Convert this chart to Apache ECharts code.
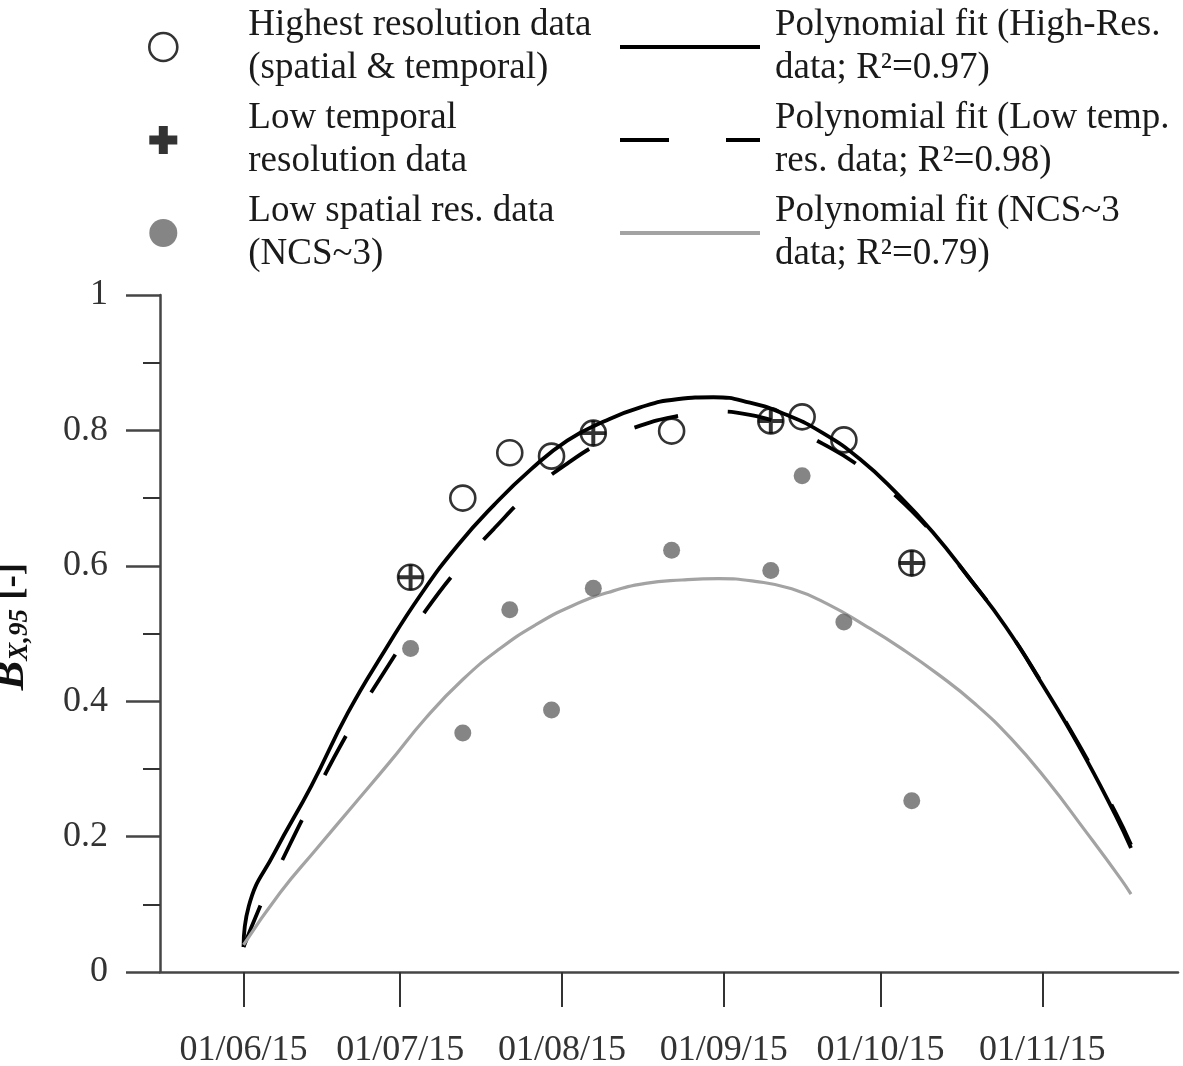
<!DOCTYPE html>
<html><head><meta charset="utf-8">
<script src="https://cdn.jsdelivr.net/npm/echarts@6/dist/echarts.min.js"></script>
<style>html,body{margin:0;padding:0;background:#fff}#c{width:1183px;height:1066px}</style>
</head><body><div id="c"></div>
<script>
// ---- data ----
const tickDates = ['2015-06-01','2015-07-01','2015-08-01','2015-09-01','2015-10-01','2015-11-01'];
const tickLabels = ['01/06/15','01/07/15','01/08/15','01/09/15','01/10/15','01/11/15'];
const xRange = ['2015-05-16','2015-11-27'];

const obsDates = ['2015-07-03','2015-07-13','2015-07-22','2015-07-30','2015-08-07','2015-08-22','2015-09-10','2015-09-16','2015-09-24','2015-10-07'];
const highRes = [0.583,0.700,0.767,0.762,0.796,0.799,0.814,0.820,0.786,0.604];
const lowSpatial = [0.478,0.353,0.535,0.387,0.567,0.623,0.593,0.733,0.517,0.253];
const lowTempDates = ['2015-07-03','2015-08-07','2015-09-10','2015-10-07'];
const lowTemp = [0.583,0.796,0.814,0.604];

const fitDates = ['2015-06-01','2015-06-02','2015-06-07','2015-06-14','2015-06-21','2015-06-28','2015-07-05','2015-07-12','2015-07-19','2015-07-26','2015-08-02','2015-08-09','2015-08-16','2015-08-23','2015-08-30','2015-09-06','2015-09-13','2015-09-20','2015-09-27','2015-10-04','2015-10-11','2015-10-18','2015-10-25','2015-11-01','2015-11-08','2015-11-15','2015-11-18'];
const solidVals = [0.037,0.097,0.177,0.275,0.383,0.474,0.558,0.630,0.690,0.742,0.785,0.813,0.834,0.846,0.849,0.841,0.823,0.796,0.758,0.708,0.650,0.582,0.510,0.425,0.334,0.232,0.183];

const dashDates = ['2015-06-01','2015-06-05','2015-06-07','2015-06-14','2015-06-21','2015-06-28','2015-07-05','2015-07-12','2015-07-19','2015-07-26','2015-08-02','2015-08-09','2015-08-16','2015-08-23','2015-08-30','2015-09-06','2015-09-13','2015-09-20','2015-09-27','2015-10-04','2015-10-11','2015-10-18','2015-10-25','2015-11-01','2015-11-08','2015-11-15','2015-11-18'];
const dashVals = [0.037,0.112,0.143,0.252,0.354,0.444,0.524,0.595,0.655,0.709,0.751,0.784,0.807,0.821,0.828,0.823,0.806,0.780,0.747,0.703,0.648,0.582,0.510,0.426,0.336,0.236,0.188];

const greyDates = ['2015-06-01','2015-06-08','2015-06-15','2015-06-22','2015-06-29','2015-07-06','2015-07-13','2015-07-20','2015-07-27','2015-08-03','2015-08-10','2015-08-17','2015-08-24','2015-08-31','2015-09-07','2015-09-14','2015-09-21','2015-09-28','2015-10-05','2015-10-12','2015-10-19','2015-10-26','2015-11-02','2015-11-09','2015-11-16','2015-11-18'];
const greyVals = [0.040,0.117,0.182,0.246,0.310,0.376,0.432,0.477,0.513,0.541,0.561,0.574,0.579,0.581,0.577,0.566,0.543,0.512,0.478,0.440,0.397,0.345,0.282,0.211,0.138,0.115];

const names = [
  'Highest resolution data\n(spatial & temporal)',
  'Low temporal\nresolution data',
  'Low spatial res. data\n(NCS~3)',
  'Polynomial fit (High-Res.\ndata; R\u00b2=0.97)',
  'Polynomial fit (Low temp.\nres. data; R\u00b2=0.98)',
  'Polynomial fit (NCS~3\ndata; R\u00b2=0.79)'
];

// ---- helpers ----
function t(s){ const p = s.split('-'); return new Date(+p[0], +p[1]-1, +p[2]).getTime(); }
function pairs(ds, vs){ return ds.map((d,i)=>[t(d), vs[i]]); }
const tickTimes = tickDates.map(t);
const FONT = '"Liberation Serif","Times New Roman",serif';
const plusThin = 'path://M10.1,0H13.9V10.1H24V13.9H13.9V24H10.1V13.9H0V10.1H10.1Z';
const plusThick = 'path://M9.5,0H18.5V9.5H28V18.5H18.5V28H9.5V18.5H0V9.5H9.5Z';
const lineIcon = 'path://M0,0H140V4H0Z';
const dashIcon = 'path://M0,0H49V4H0ZM106,0H140V4H106Z';

const chart = echarts.init(document.getElementById('c'), null, {renderer:'canvas'});
chart.setOption({
  animation: false,
  backgroundColor: '#fff',
  grid: {left:160, right:5, top:295, bottom:94, containLabel:false, outerBoundsMode:'none'},
  legend: [
    {orient:'vertical', left:148, top:4, padding:0, itemGap:7, itemWidth:160, itemHeight:28, selectedMode:false,
     textStyle:{fontSize:37, lineHeight:43, fontFamily:FONT, color:'#1a1a1a'},
     data:[
       {name:names[0], icon:'circle', itemStyle:{borderWidth:2.6, borderColor:'#000'}},
       {name:names[1], icon:plusThick},
       {name:names[2], icon:'circle'}
     ]},
    {orient:'vertical', left:620, top:4, padding:0, itemGap:7, itemWidth:140, itemHeight:28, selectedMode:false,
     itemStyle:{borderWidth:0},
     textStyle:{fontSize:37, lineHeight:43, fontFamily:FONT, color:'#1a1a1a', padding:[0,0,0,10]},
     data:[
       {name:names[3], icon:lineIcon},
       {name:names[4], icon:dashIcon},
       {name:names[5], icon:lineIcon}
     ]}
  ],
  xAxis: {
    type:'value', min:t(xRange[0]), max:t(xRange[1]), scale:true,
    axisLine:{show:true, onZero:false, lineStyle:{color:'#454545', width:2.5}},
    axisTick:{show:true, customValues:tickTimes, length:35, lineStyle:{color:'#333', width:2}},
    axisLabel:{customValues:tickTimes, margin:61, fontSize:36, fontFamily:FONT, color:'#333', hideOverlap:false,
      formatter:function(v){ let best=0; for(let i=0;i<tickTimes.length;i++){ if(Math.abs(tickTimes[i]-v)<Math.abs(tickTimes[best]-v)) best=i; } return tickLabels[best]; }},
    splitLine:{show:false}, minorTick:{show:false}
  },
  yAxis: {
    type:'value', min:0, max:1, interval:0.2,
    axisLine:{show:true, lineStyle:{color:'#454545', width:2.5}},
    axisTick:{show:true, length:34, lineStyle:{color:'#454545', width:2.5}},
    minorTick:{show:true, splitNumber:2, length:17, lineStyle:{color:'#333', width:2}},
    splitLine:{show:false}, minorSplitLine:{show:false},
    axisLabel:{margin:52, fontSize:36, fontFamily:FONT, color:'#333'},
    name:'{b|B}{s|X,95}{n| [-]}', nameLocation:'middle', nameRotate:90, nameGap:126,
    nameTextStyle:{fontFamily:FONT, color:'#111', padding:[0,0,0,14], rich:{
      b:{fontSize:44, fontWeight:'bold', fontStyle:'italic', fontFamily:FONT, color:'#111', lineHeight:44},
      s:{fontSize:27, fontWeight:'bold', fontStyle:'italic', fontFamily:FONT, color:'#111', verticalAlign:'bottom', lineHeight:27},
      n:{fontSize:37, fontWeight:'bold', fontFamily:FONT, color:'#111', lineHeight:44}
    }}
  },
  series: [
    {name:names[3], type:'line', data:pairs(fitDates, solidVals), symbol:'none', smooth:0.5,
     color:'#000', lineStyle:{color:'#000', width:3.8}, z:2},
    {name:names[4], type:'line', data:pairs(dashDates, dashVals), symbol:'none', smooth:0.5,
     color:'#000', lineStyle:{color:'#000', width:3.8, type:[45,50]}, z:2},
    {name:names[5], type:'line', data:pairs(greyDates, greyVals), symbol:'none', smooth:0.5,
     color:'#a3a3a3', lineStyle:{color:'#a3a3a3', width:3.2}, z:2},
    {name:names[2], type:'scatter', data:pairs(obsDates, lowSpatial), symbol:'circle', symbolSize:17,
     itemStyle:{color:'#666'}, z:3},
    {name:names[0], type:'scatter', data:pairs(obsDates, highRes), symbol:'circle', symbolSize:25,
     itemStyle:{color:'rgba(0,0,0,0)', borderColor:'#000', borderWidth:2.6}, z:4},
    {name:names[1], type:'scatter', data:pairs(lowTempDates, lowTemp), symbol:plusThin, symbolSize:25,
     itemStyle:{color:'#000'}, z:5}
  ]
});
</script></body></html>
